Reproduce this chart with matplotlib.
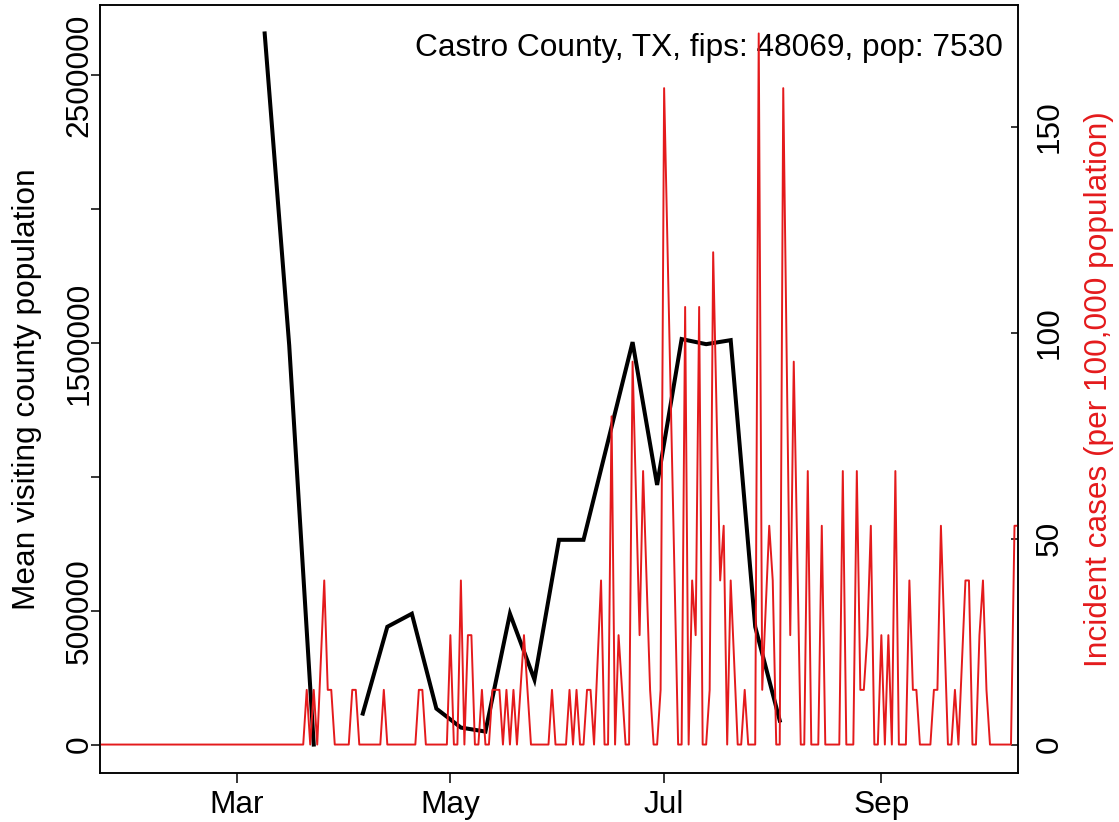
import matplotlib
matplotlib.use('Agg')
import matplotlib.pyplot as plt
import numpy as np
import pandas as pd

plt.rcParams['font.family'] = ['Liberation Sans', 'DejaVu Sans']

county_label = 'Castro County, TX, fips: 48069, pop: 7530'
population = 7530
red = '#e41a1c'

# weekly mean visiting population (black line), NaN = missing week
visit_dates = ['2020-03-09', '2020-03-16', '2020-03-23', '2020-03-30', '2020-04-06',
               '2020-04-13', '2020-04-20', '2020-04-27', '2020-05-04', '2020-05-11',
               '2020-05-18', '2020-05-25', '2020-06-01', '2020-06-08', '2020-06-15',
               '2020-06-22', '2020-06-29', '2020-07-06', '2020-07-13', '2020-07-20',
               '2020-07-27', '2020-08-03']
visit_means = [2657000, 1492000, 0, np.nan, 115700,
               440000, 488800, 134300, 63400, 48500,
               488800, 242500, 765000, 765000, 1134000,
               1503700, 970000, 1515000, 1496000, 1511000,
               440000, 89500]

# daily incident cases (red line), dates where the line changes direction
case_dates = ['01-22', '03-20', '03-21', '03-22', '03-23', '03-24', '03-26', '03-27', '03-28', '03-29',
              '04-02', '04-03', '04-04', '04-05', '04-11', '04-12', '04-13', '04-21', '04-22', '04-23',
              '04-24', '04-30', '05-01', '05-02', '05-03', '05-04', '05-05', '05-06', '05-07', '05-08',
              '05-09', '05-10', '05-11', '05-12', '05-13', '05-14', '05-15', '05-16', '05-17', '05-18',
              '05-19', '05-20', '05-22', '05-24', '05-29', '05-30', '05-31', '06-03', '06-04', '06-05',
              '06-06', '06-07', '06-08', '06-09', '06-10', '06-11', '06-13', '06-14', '06-15', '06-16',
              '06-17', '06-18', '06-20', '06-21', '06-22', '06-24', '06-25', '06-27', '06-28', '06-29',
              '06-30', '07-01', '07-05', '07-06', '07-07', '07-08', '07-09', '07-10', '07-11', '07-12',
              '07-13', '07-14', '07-15', '07-17', '07-18', '07-19', '07-20', '07-22', '07-23', '07-24',
              '07-25', '07-27', '07-28', '07-29', '07-31', '08-01', '08-02', '08-03', '08-04', '08-06',
              '08-07', '08-09', '08-10', '08-11', '08-12', '08-14', '08-15', '08-16', '08-20', '08-21',
              '08-22', '08-24', '08-25', '08-26', '08-27', '08-28', '08-29', '08-30', '08-31', '09-01',
              '09-02', '09-03', '09-04', '09-05', '09-06', '09-08', '09-09', '09-10', '09-11', '09-12',
              '09-15', '09-16', '09-17', '09-18', '09-20', '09-21', '09-22', '09-23', '09-25', '09-26',
              '09-27', '09-28', '09-29', '09-30', '10-01', '10-02', '10-08', '10-09', '10-10']
case_counts = [0, 0, 1, 0, 1, 0, 3, 1, 1, 0,
               0, 1, 1, 0, 0, 1, 0, 0, 1, 1,
               0, 0, 2, 0, 0, 3, 0, 2, 2, 0,
               0, 1, 0, 0, 1, 1, 1, 0, 1, 0,
               1, 0, 2, 0, 0, 1, 0, 0, 1, 0,
               1, 0, 0, 1, 1, 0, 3, 0, 0, 6,
               0, 2, 0, 0, 7, 2, 5, 1, 0, 0,
               1, 12, 0, 0, 8, 0, 3, 2, 8, 0,
               0, 1, 9, 3, 4, 0, 3, 0, 0, 1,
               0, 0, 13, 1, 4, 3, 0, 0, 12, 2,
               7, 0, 0, 5, 0, 0, 4, 0, 0, 5,
               0, 0, 5, 1, 1, 2, 4, 0, 0, 2,
               0, 2, 0, 5, 0, 0, 3, 1, 1, 0,
               0, 1, 1, 4, 0, 0, 1, 0, 3, 3,
               0, 0, 2, 3, 1, 0, 0, 4, 4]

month_ticks = ['2020-03-01', '2020-05-01', '2020-07-01', '2020-09-01']
month_labels = ['Mar', 'May', 'Jul', 'Sep']
left_ticks = [0, 500000, 1000000, 1500000, 2000000, 2500000]
left_labels = ['0', '500000', '', '1500000', '', '2500000']
right_ticks = [0, 50, 100, 150]

vd = pd.to_datetime(visit_dates)
cd = pd.to_datetime(['2020-' + d for d in case_dates])
incidence = np.array(case_counts) / population * 100000

fs = 22.8
fig = plt.figure(figsize=(11.19, 8.22), dpi=100)
ax = fig.add_axes([100 / 1119, 49 / 822, 918 / 1119, 768 / 822])
ax.plot(vd, visit_means, color='black', lw=2.9, solid_joinstyle='miter')
vmax = np.nanmax(visit_means)
ax.set_ylim(-0.04 * vmax, 1.04 * vmax)
ax.set_xlim(pd.Timestamp('2020-01-22'), pd.Timestamp('2020-10-10'))
ax.set_yticks(left_ticks)
ax.set_yticklabels(left_labels, rotation=90, va='center', fontsize=fs)
ax.set_xticks(pd.to_datetime(month_ticks))
ax.set_xticklabels(month_labels, fontsize=fs)
ax.tick_params(axis='x', direction='out', length=7, width=1.1, pad=5)
ax.tick_params(axis='y', direction='out', length=6.5, width=1.1, pad=-2.5)
for s in ax.spines.values():
    s.set_linewidth(1.1)

ax2 = ax.twinx()
ax2.plot(cd, incidence, color=red, lw=1.4)
imax = incidence.max()
ax2.set_ylim(-0.04 * imax, 1.04 * imax)
ax2.set_yticks(right_ticks)
ax2.set_yticklabels([str(t) for t in right_ticks], rotation=90, va='center', fontsize=fs)
ax2.tick_params(axis='y', direction='in', length=5.3, width=1.1, pad=12)
for s in ax2.spines.values():
    s.set_linewidth(1.1)

ax.text(0.9837, 0.9336, county_label, transform=ax.transAxes, ha='right',
        va='baseline', fontsize=fs)
fig.text(27 / 1119, 1 - 389 / 822, 'Mean visiting county population', rotation=90,
         ha='center', va='center', fontsize=fs)
fig.text(1099 / 1119, 1 - 389 / 822, 'Incident cases (per 100,000 population)',
         rotation=90, ha='center', va='center', fontsize=fs, color=red)

fig.savefig('out.png', dpi=100)
